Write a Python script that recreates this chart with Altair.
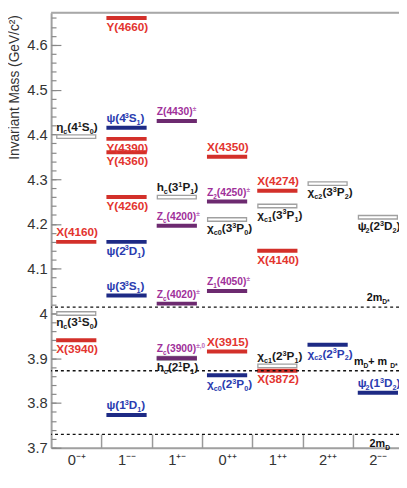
import altair as alt
import pandas as pd

# ---------------- data ----------------
columns = ["0⁻⁺", "1⁻⁻", "1⁺⁻", "0⁺⁺", "1⁺⁺", "2⁺⁺", "2⁻⁻"]

state_col = [0, 0, 0, 0,
             1, 1, 1, 1, 1, 1, 1, 1,
             2, 2, 2, 2, 2, 2,
             3, 3, 3, 3, 3, 3,
             4, 4, 4, 4, 4,
             5, 5,
             6, 6]
state_mass = [4.395, 4.160, 4.000, 3.940,
              4.660, 4.415, 4.390, 4.360, 4.260, 4.160, 4.040, 3.773,
              4.430, 4.260, 4.196, 4.022, 3.900, 3.900,
              4.350, 4.250, 4.210, 4.050, 3.915, 3.862,
              4.274, 4.240, 4.140, 3.883, 3.872,
              4.290, 3.930,
              4.215, 3.823]
# markup: ^x superscript, _x subscript, {..} groups
state_label = ["η_c(4^1S_0)", "X(4160)", "η_c(3^1S_0)", "X(3940)",
               "Y(4660)", "ψ(4^3S_1)", "Y(4390)", "Y(4360)", "Y(4260)", "ψ(2^3D_1)", "ψ(3^3S_1)", "ψ(1^3D_1)",
               "Z(4430)^±", "h_c(3^1P_1)", "Z_c(4200)^±", "Z_c(4020)^±", "h_c(2^1P_1)", "Z_c(3900)^{±,0}",
               "X(4350)", "Z_2(4250)^±", "χ_{c0}(3^3P_0)", "Z_1(4050)^±", "X(3915)", "χ_{c0}(2^3P_0)",
               "X(4274)", "χ_{c1}(3^3P_1)", "X(4140)", "χ_{c1}(2^3P_1)", "X(3872)",
               "χ_{c2}(3^3P_2)", "χ_{c2}(2^3P_2)",
               "ψ_2(2^3D_2)", "ψ_2(1^3D_2)"]
state_kind = ["grey", "red", "grey", "red",
              "red", "blue", "red", "red", "red", "blue", "blue", "blue",
              "purple", "grey", "purple", "purple", "grey", "purple",
              "red", "purple", "grey", "purple", "red", "blue",
              "red", "grey", "red", "grey", "red",
              "grey", "blue",
              "grey", "blue"]
state_side = ["above", "above", "below", "below",
              "below", "above", "below", "below", "below", "below", "above", "above",
              "above", "above", "above", "above", "below", "above",
              "above", "above", "below", "above", "above", "below",
              "above", "below", "below", "above", "below",
              "below", "below",
              "below", "above"]

threshold_mass = [4.014, 3.872, 3.730]
threshold_label = ["2m_{D*}", "m_D + m_{D*}", "2m_D"]
threshold_side = ["above", "above", "below"]

y_major = [3.7, 3.8, 3.9, 4.0, 4.1, 4.2, 4.3, 4.4, 4.5, 4.6]
y_minor = [round(3.7 + 0.02 * i, 2) for i in range(49)]

# ---------------- styles ----------------
bar_colors = {"red": "#d3302a", "blue": "#1d2a85", "purple": "#6d2a70", "grey": "#a0a0a0"}
text_colors = {"red": "#e3342f", "blue": "#2a3cb0", "purple": "#a0309a", "grey": "#1a1a1a",
               "thr": "#111111"}
font_sizes = {"red": 12, "blue": 12, "purple": 10.5, "grey": 12, "thr": 11}
SUB_SCALE = 0.62
PM_COLOR = "#bb6cbb"

W, H = 355, 444
COLW = 51.3
X_MAX = W / COLW
Y_DOM = [3.7, 4.672]
FONT = "Liberation Sans"
THR_X = [322, 309, 325]  # label start (px from plot left)

# approximate Arial-bold advance widths (em)
CW = {" ": 0.278, "(": 0.333, ")": 0.333, "*": 0.389, "+": 0.584, ",": 0.278, ".": 0.278,
      "±": 0.549, "X": 0.667, "Y": 0.667, "Z": 0.611, "S": 0.667, "P": 0.667, "D": 0.722,
      "c": 0.556, "h": 0.611, "m": 0.889, "η": 0.611, "ψ": 0.66, "χ": 0.58}


def cw(t, size):
    return sum(CW.get(ch, 0.556) for ch in t) * size


def parse(s):
    segs, cur, i = [], "", 0
    while i < len(s):
        ch = s[i]
        if ch in "^_":
            if cur:
                segs.append((cur, "n"))
                cur = ""
            kind = "sup" if ch == "^" else "sub"
            i += 1
            if s[i] == "{":
                j = s.index("}", i)
                txt, i = s[i + 1:j], j + 1
            else:
                txt, i = s[i], i + 1
            segs.append((txt, kind))
        else:
            cur += ch
            i += 1
    if cur:
        segs.append((cur, "n"))
    return segs


def segments(x0, mass, side, markup, kind_key):
    rows, off = [], 0.0
    base_fs = font_sizes[kind_key]
    color = text_colors[kind_key]
    for txt, kind in parse(markup):
        size = base_fs if kind == "n" else round(base_fs * SUB_SCALE, 1)
        col = PM_COLOR if ("±" in txt and kind_key == "purple") else color
        rows.append({"x0": x0, "off": off, "mass": mass, "side": side, "kind": kind,
                     "t": txt, "tc": col, "fs": size})
        off += cw(txt, size)
    return rows


df = pd.DataFrame({"col": state_col, "mass": state_mass, "kind": state_kind})
df["bcol"] = df["kind"].map(bar_colors)

seg_rows = []
for c, m, lab, k, sd in zip(state_col, state_mass, state_label, state_kind, state_side):
    seg_rows += segments(c + 0.1, m, sd, lab, k)
for m, lab, sd, px in zip(threshold_mass, threshold_label, threshold_side, THR_X):
    seg_rows += segments(px / COLW, m, sd, lab, "thr")
seg_df = pd.DataFrame(seg_rows)

xs = alt.Scale(domain=[0, X_MAX], nice=False, zero=False)
ys = alt.Scale(domain=Y_DOM, nice=False, zero=False)

left_axis = alt.Axis(orient="left", values=y_major, ticks=False, domainColor="#a0a0a0",
                     domainWidth=2, labelFontSize=15, labelColor="#333", labelPadding=4,
                     labelExpr="format(datum.value, '~g')", grid=False,
                     title="Invariant Mass (GeV/c²)", titleAnchor="end", titleFontSize=14,
                     titleFontWeight="normal", titleColor="#333", titlePadding=5, titleY=2)
minor_axis = alt.Axis(orient="right", offset=-W, values=y_minor, labels=False, domain=False,
                      tickSize=5, tickColor="#888", tickWidth=1.2, grid=False, title=None)
major_axis = alt.Axis(orient="right", offset=-W, values=y_major, labels=False, domain=False,
                      tickSize=10, tickColor="#888", tickWidth=1.2, grid=False, title=None)

label_js = "[" + ",".join("'%s'" % c for c in columns) + "]"
bottom_axis = alt.Axis(orient="bottom", values=[i + 0.5 for i in range(len(columns))],
                       labelExpr=label_js + "[floor(datum.value)]", ticks=False,
                       domainColor="#a0a0a0", domainWidth=2, labelFontSize=15,
                       labelColor="#333", labelPadding=5, labelFlush=False, grid=False, title=None)
sep_axis = alt.Axis(orient="top", offset=-H, values=list(range(1, len(columns))), labels=False,
                    domain=False, tickSize=14, tickColor="#999", tickWidth=1.5, grid=False, title=None)

base = alt.Chart(df).transform_calculate(x1="datum.col + 0.1", x2="datum.col + 0.9")
grey_df = base.transform_filter("datum.kind == 'grey'")
fill_df = base.transform_filter("datum.kind != 'grey'")

open_outer = grey_df.mark_rule(strokeWidth=5, color="#a0a0a0", clip=True).encode(
    x=alt.X("x1:Q", scale=xs, axis=bottom_axis), x2="x2:Q",
    y=alt.Y("mass:Q", scale=ys, axis=left_axis))
open_inner = grey_df.mark_rule(strokeWidth=2.2, color="white", xOffset=1.3, x2Offset=-1.3,
                               clip=True).encode(
    x=alt.X("x1:Q", scale=xs, axis=sep_axis), x2="x2:Q",
    y=alt.Y("mass:Q", scale=ys, axis=minor_axis))
filled = fill_df.mark_rule(strokeWidth=4, clip=True).encode(
    x=alt.X("x1:Q", scale=xs, axis=None), x2="x2:Q",
    y=alt.Y("mass:Q", scale=ys, axis=major_axis),
    color=alt.Color("bcol:N", scale=None))

thr = alt.Chart(pd.DataFrame({"m": threshold_mass})).mark_rule(
    strokeDash=[3, 3], strokeWidth=1.3, color="#111").encode(
    y=alt.Y("m:Q", scale=ys, axis=None))

frame_top = alt.Chart(pd.DataFrame({"a": [0]})).mark_rule(color="#a8a8a8", strokeWidth=2).encode(
    x=alt.value(0), x2=alt.value(W), y=alt.value(0))

DY = {("above", "n"): -6, ("above", "sup"): -10, ("above", "sub"): -3,
      ("below", "n"): 13, ("below", "sup"): 8.5, ("below", "sub"): 16}

text_layers = []
for (side, kind), dy in DY.items():
    text_layers.append(
        alt.Chart(seg_df)
        .transform_filter(f"datum.side == '{side}' && datum.kind == '{kind}'")
        .transform_calculate(xx=f"datum.x0 + datum.off / {COLW}")
        .mark_text(align="left", baseline="alphabetic", dy=dy, fontWeight="bold", font=FONT)
        .encode(x=alt.X("xx:Q", scale=xs, axis=None),
                y=alt.Y("mass:Q", scale=ys, axis=None),
                text="t:N", color=alt.Color("tc:N", scale=None),
                size=alt.Size("fs:Q", scale=None))
    )

chart = alt.layer(open_outer, open_inner, filled, thr, frame_top, *text_layers
                  ).resolve_axis(x="independent", y="independent").properties(
    width=W, height=H,
    autosize=alt.AutoSizeParams(type="none"),
    padding={"left": 44, "top": 0, "right": 0, "bottom": 20},
).configure_view(stroke=None).configure(font=FONT)

chart.save("out.html", embed_options={"renderer": "svg", "actions": False})
